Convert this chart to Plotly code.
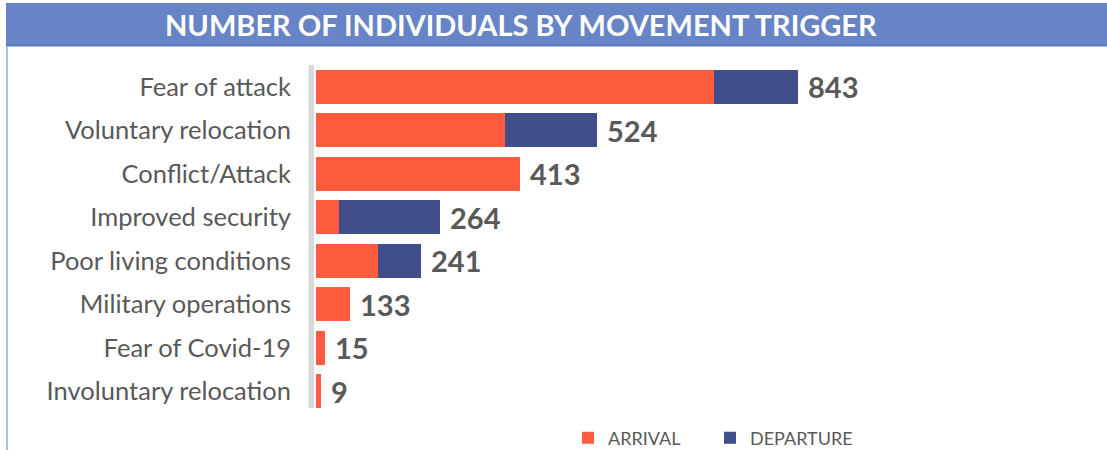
import plotly.graph_objects as go

# ---- data ----
categories = ["Fear of attack", "Voluntary relocation", "Conflict/Attack", "Improved security",
              "Poor living conditions", "Military operations", "Fear of Covid-19", "Involuntary relocation"]
# bar segment lengths as drawn (chart units, same scale as the 843 bar)
arrival = [696, 331, 357, 40, 108, 59, 16, 8]
departure = [147, 161, 0, 177, 76, 0, 0, 0]
# printed totals
totals = [843, 524, 413, 264, 241, 133, 15, 9]

ORANGE = "#FF5B3F"
NAVY = "#414E8A"
GREY = "#595959"
BAND = "#6684C6"

W, H = 1107, 450
L, R, T, B = 316, 27, 65, 37
PW, PH = W - L - R, H - T - B
XMAX = PW / (482.3 / 843)


def px(x):
    return (x - L) / PW


def py(y):
    return (H - B - y) / PH


fig = go.Figure()
fig.add_trace(go.Bar(y=categories, x=arrival, orientation="h", name="ARRIVAL",
                     marker=dict(color=ORANGE, line=dict(width=0))))
fig.add_trace(go.Bar(y=categories, x=departure, orientation="h", name="DEPARTURE",
                     marker=dict(color=NAVY, line=dict(width=0))))

bar_end = [a + d for a, d in zip(arrival, departure)]
for c, e, t in zip(categories, bar_end, totals):
    fig.add_annotation(x=e, y=c, text=f"<b>{t}</b>", showarrow=False, xanchor="left",
                       xshift=8, yshift=0, font=dict(family="Lato", size=29, color=GREY))

shapes = [
    # title band
    dict(type="rect", xref="paper", yref="paper", x0=px(6), x1=px(1107), y0=py(46), y1=py(3),
         fillcolor=BAND, line=dict(width=0), layer="below"),
    dict(type="line", xref="paper", yref="paper", x0=px(6), x1=px(1107), y0=py(45.5), y1=py(45.5),
         line=dict(color="#5B7BC2", width=2)),
    # left border line
    dict(type="line", xref="paper", yref="paper", x0=px(7), x1=px(7), y0=py(46), y1=py(450),
         line=dict(color="#A9BFEA", width=2)),
    # vertical axis bar
    dict(type="rect", xref="paper", yref="paper", x0=px(308.5), x1=px(314), y0=py(408), y1=py(65),
         fillcolor="#D9D9D9", line=dict(width=0), layer="below"),
]

fig.add_annotation(xref="paper", yref="paper", x=px(521), y=py(25), text="<b>NUMBER OF INDIVIDUALS BY MOVEMENT TRIGGER</b>",
                   showarrow=False, xanchor="center", yanchor="middle",
                   font=dict(family="Lato", size=29, color="white"))

fig.update_layout(
    width=W, height=H,
    margin=dict(l=L, r=R, t=T, b=B, autoexpand=False),
    paper_bgcolor="white", plot_bgcolor="white",
    barmode="stack", bargap=0.22,
    shapes=shapes,
    showlegend=True,
    legend=dict(orientation="h", x=px(568), y=py(438), xanchor="left", yanchor="middle",
                font=dict(family="Lato", size=18, color=GREY), traceorder="normal",
                entrywidth=97, entrywidthmode="pixels", itemwidth=30, bgcolor="rgba(0,0,0,0)"),
    xaxis=dict(range=[0, XMAX], visible=False, fixedrange=True),
    yaxis=dict(categoryorder="array", categoryarray=categories, autorange="reversed",
               showline=False, showgrid=False, zeroline=False, ticks="",
               ticklabelstandoff=24,
               tickfont=dict(family="Lato", size=25.5, color=GREY)),
    font=dict(family="Lato"),
)

fig.write_html("out.html", config={"displayModeBar": False},
               post_script="document.body.style.margin='0';document.body.style.overflow='hidden';")
